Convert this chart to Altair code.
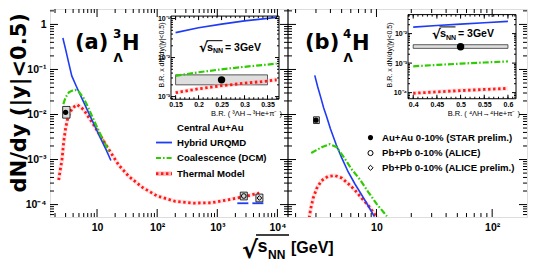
import math
import altair as alt
import pandas as pd

# ---------------- data ----------------
# panel (a): hypertriton 3ΛH, x = sqrt(s_NN) [GeV], y = dN/dy
urqmd3_x = [2.7, 3.0, 3.4, 3.8, 4.5, 5.5, 7.0, 9.0, 11.0, 14.0, 17.0]
urqmd3_y = [0.50, 0.28, 0.135, 0.072, 0.043, 0.024, 0.012, 0.0059, 0.0033, 0.0017, 0.00095]
coal3_x = [2.75, 3.0, 3.4, 3.9, 4.4, 5.0, 6.0, 7.0, 8.5, 10.0, 12.0, 14.0, 16.0]
coal3_y = [0.017, 0.024, 0.031, 0.034, 0.035, 0.032, 0.023, 0.015, 0.0085, 0.0052, 0.0031, 0.0021, 0.0014]
therm3_x = [2.3, 2.45, 2.6, 2.8, 3.0, 3.3, 3.9, 4.7, 6.0, 8.4, 11.0, 16.0, 23.0, 34.0, 57.0,
            100.0, 200.0, 400.0, 800.0, 1500.0, 2800.0, 5000.0]
therm3_y = [3.5e-4, 6e-4, 9.5e-4, 2.6e-3, 5e-3, 9e-3, 0.014, 0.0165, 0.0128, 0.0065, 0.0036,
            0.0016, 7.5e-4, 4.2e-4, 2.4e-4, 1.55e-4, 1.18e-4, 1.08e-4, 1.1e-4, 1.27e-4, 1.5e-4, 1.8e-4]
star3 = dict(x=[3.0], y=[0.0112], xlo=[2.68], xhi=[3.55], ylo=[0.0083], yhi=[0.0151])
alice_x = [2760.0]
alice_y = [1.55e-4]
alice_box = dict(xlo=[2413.0], xhi=[3157.0], ylo=[1.27e-4], yhi=[1.89e-4])
aliceP_x = [5020.0]
aliceP_y = [1.4e-4]
aliceP_box = dict(xlo=[4390.0], xhi=[5740.0], ylo=[1.15e-4], yhi=[1.71e-4])
lhc_urqmd = dict(xlo=[2154.0, 3831.0], xhi=[3287.0, 5843.0], y=[1.07e-4, 1.07e-4])

# panel (b): 4ΛH
urqmd4_x = [2.93, 3.1, 3.3, 3.5, 3.7, 4.0, 4.5, 5.0, 5.7, 6.5, 7.5, 8.5, 9.6]
urqmd4_y = [0.074, 0.042, 0.024, 0.014, 0.0091, 0.0048, 0.0021, 1.1e-3, 5.3e-4, 2.9e-4, 1.6e-4, 9.3e-5, 5.4e-5]
coal4_x = [2.73, 3.0, 3.4, 3.95, 4.5, 5.2, 6.1, 7.2, 8.5, 10.0, 12.3]
coal4_y = [1.4e-3, 1.6e-3, 1.9e-3, 2.2e-3, 1.9e-3, 1.15e-3, 6.1e-4, 3.6e-4, 1.9e-4, 1.05e-4, 5.5e-5]
therm4_x = [2.62, 2.7, 2.84, 3.05, 3.35, 3.8, 4.37, 5.0, 5.71, 6.5, 7.45, 8.5, 9.7, 10.5]
therm4_y = [5e-5, 8e-5, 1.4e-4, 2.3e-4, 3.4e-4, 4.2e-4, 4.4e-4, 3.9e-4, 2.9e-4, 2.1e-4, 1.4e-4, 9.5e-5, 6e-5, 4.5e-5]
star4 = dict(x=[3.0], y=[0.0075], xlo=[2.86], xhi=[3.21], ylo=[0.0063], yhi=[0.0089])

# insets: B.R. x dN/dy at 3 GeV
br3 = [0.15, 0.2, 0.25, 0.3, 0.35, 0.37]
br3_urqmd = [0.0436, 0.058, 0.072, 0.087, 0.101, 0.106]
br3_coal = [0.0034, 0.0042, 0.0050, 0.0058, 0.0066, 0.0070]
br3_therm = [0.00126, 0.00158, 0.0019, 0.0022, 0.0025, 0.0027]
br3_band = dict(xlo=[0.15], xhi=[0.35], ylo=[0.0020], yhi=[0.0036])
br3_star = dict(x=[0.25], y=[0.00268])

br4 = [0.4, 0.45, 0.5, 0.55, 0.6]
br4_urqmd = [0.0166, 0.0188, 0.021, 0.0234, 0.026]
br4_coal = [7.8e-4, 8.7e-4, 9.6e-4, 1.05e-3, 1.14e-3]
br4_therm = [9.5e-5, 1.06e-4, 1.17e-4, 1.28e-4, 1.39e-4]
br4_band = dict(xlo=[0.4], xhi=[0.6], ylo=[0.00316], yhi=[0.0042])
br4_star = dict(x=[0.5], y=[0.00358])

legend_a = ["Central Au+Au", "Hybrid URQMD", "Coalescence (DCM)", "Thermal Model"]
legend_b = ["Au+Au 0-10% (STAR prelim.)", "Pb+Pb 0-10% (ALICE)", "Pb+Pb 0-10% (ALICE prelim.)"]

# ---------------- layout / style ----------------
W, H, WL = 477, 208, 238
FONT = "Liberation Sans"
BLUE, GREEN, RED, PINK = "#1f3cf5", "#2ecc00", "#ff1a1a", "#ffb8b8"


def PX(X):
    return X - 51


def PY(Y):
    return (Y - 4.3) * 0.984


XL = dict(type="log", domain=[1.65, 1.5e4], range=[0, WL])
XR = dict(type="log", domain=[1.72, 200], range=[WL, W])
YM = dict(type="log", domain=[5.3e-5, 2.2], range=[H, 0])
IL_X = dict(type="linear", domain=[0.14, 0.375], range=[PX(172), PX(280)], zero=False)
IL_Y = dict(type="log", domain=[8.55e-4, 0.1156], range=[PY(96), PY(11.5)])
IR_X = dict(type="linear", domain=[0.389, 0.617], range=[PX(409), PX(517)], zero=False)
IR_Y = dict(type="log", domain=[6.2e-5, 0.044], range=[PY(95.5), PY(10)])


def S(d):
    return alt.Scale(nice=False, **d)


def line(xs, ys, xs_, ys_, color, width, dash=None, opacity=1.0, clip=False):
    kw = dict(color=color, strokeWidth=width, opacity=opacity, clip=clip)
    if dash:
        kw["strokeDash"] = dash
    return alt.Chart(pd.DataFrame({"x": xs, "y": ys})).mark_line(**kw).encode(
        x=alt.X("x:Q", scale=S(xs_), axis=None),
        y=alt.Y("y:Q", scale=S(ys_), axis=None),
    )


def curves(xs, ys, xs_, ys_, kind, clip=False):
    if kind == "urqmd":
        return [line(xs, ys, xs_, ys_, BLUE, 1.6, clip=clip)]
    if kind == "coal":
        return [line(xs, ys, xs_, ys_, GREEN, 2.2, dash=[6, 2, 1.6, 2], clip=clip)]
    return [line(xs, ys, xs_, ys_, PINK, 4.5, opacity=0.35, clip=clip),
            line(xs, ys, xs_, ys_, RED, 2.8, dash=[2.4, 2.6], clip=clip)]


def box(d, xs_, ys_, fill="#d9d9d9", stroke="black", sw=0.8):
    return alt.Chart(pd.DataFrame(d)).mark_rect(fill=fill, stroke=stroke, strokeWidth=sw).encode(
        x=alt.X("xlo:Q", scale=S(xs_), axis=None), x2="xhi:Q",
        y=alt.Y("ylo:Q", scale=S(ys_), axis=None), y2="yhi:Q",
    )


def point(xs, ys, xs_, ys_, shape="circle", filled=True, size=30, sw=1.0):
    return alt.Chart(pd.DataFrame({"x": xs, "y": ys})).mark_point(
        shape=shape, filled=filled, color="black", size=size, strokeWidth=sw, opacity=1
    ).encode(x=alt.X("x:Q", scale=S(xs_), axis=None), y=alt.Y("y:Q", scale=S(ys_), axis=None))


def text(s, X, Y, size, weight="bold", align="left", baseline="alphabetic", angle=0,
         font=FONT, color="black"):
    return alt.Chart(pd.DataFrame({"t": [s]})).mark_text(
        align=align, baseline=baseline, fontSize=size, fontWeight=weight, angle=angle,
        font=font, color=color
    ).encode(x=alt.value(PX(X)), y=alt.value(PY(Y)), text="t:N")


def hbar(X1, X2, Y, color="black", width=1.0, dash=None):
    kw = dict(color=color, strokeWidth=width)
    if dash:
        kw["strokeDash"] = dash
    return alt.Chart(pd.DataFrame({"a": [0]})).mark_rule(**kw).encode(
        x=alt.value(PX(X1)), x2=alt.value(PX(X2)), y=alt.value(PY(Y)))


def xticks(vals, xs_, ya, yb, sw=1.0):
    return alt.Chart(pd.DataFrame({"v": vals})).mark_rule(color="black", strokeWidth=sw).encode(
        x=alt.X("v:Q", scale=S(xs_), axis=None), y=alt.value(ya), y2=alt.value(yb))


def yticks(vals, ys_, xa, xb, sw=1.0):
    return alt.Chart(pd.DataFrame({"v": vals})).mark_rule(color="black", strokeWidth=sw).encode(
        y=alt.Y("v:Q", scale=S(ys_), axis=None), x=alt.value(xa), x2=alt.value(xb))


def label_expr(vals, labels):
    expr = "'%s'" % labels[-1]
    for v, lab in reversed(list(zip(vals[:-1], labels[:-1]))):
        expr = "datum.value < %g ? '%s' : (%s)" % (v * 1.5, lab, expr)
    return expr


def axis(orient, offset, vals, size, labels=None, fmt=None, pad=3, weight="bold"):
    kw = dict(orient=orient, offset=offset, values=vals, ticks=False, domain=False, grid=False,
              title=None, labelFont=FONT, labelFontSize=size, labelFontWeight=weight,
              labelPadding=pad, labelColor="black", labelOverlap=False, labelFlush=False)
    if labels:
        kw["labelExpr"] = label_expr(vals, labels)
    if fmt:
        kw["format"] = fmt
    return alt.Axis(**kw)


def axis_layer(xs_, ys_, xax, yax, x0, y0):
    return alt.Chart(pd.DataFrame({"x": [x0], "y": [y0]})).mark_point(opacity=0).encode(
        x=alt.X("x:Q", scale=S(xs_), axis=xax), y=alt.Y("y:Q", scale=S(ys_), axis=yax))


SUP = {"-": "\u207b", "1": "\u00b9", "2": "\u00b2", "3": "\u00b3", "4": "\u2074"}


def pow_label(e):
    if e == 0:
        return "1"
    if e == 1:
        return "10"
    return "10" + "".join(SUP[c] for c in str(e))


layers = []

# ---- main curves ----
layers += curves(therm3_x, therm3_y, XL, YM, "therm")
layers += curves(urqmd3_x, urqmd3_y, XL, YM, "urqmd")
layers += curves(coal3_x, coal3_y, XL, YM, "coal")
layers += curves(therm4_x, therm4_y, XR, YM, "therm", clip=True)
layers += curves(urqmd4_x, urqmd4_y, XR, YM, "urqmd", clip=True)
layers += curves(coal4_x, coal4_y, XR, YM, "coal", clip=True)

# ---- data points ----
layers.append(box(star3, XL, YM))
layers.append(point(star3["x"], star3["y"], XL, YM, size=28))
layers.append(alt.Chart(pd.DataFrame(lhc_urqmd)).mark_rule(color=BLUE, strokeWidth=1.8).encode(
    x=alt.X("xlo:Q", scale=S(XL), axis=None), x2="xhi:Q",
    y=alt.Y("y:Q", scale=S(YM), axis=None)))
layers.append(box(alice_box, XL, YM))
layers.append(point(alice_x, alice_y, XL, YM, filled=False, size=22))
layers.append(box(aliceP_box, XL, YM))
layers.append(point(aliceP_x, aliceP_y, XL, YM, shape="diamond", filled=False, size=22))
layers.append(box(star4, XR, YM))
layers.append(point(star4["x"], star4["y"], XR, YM, size=28))

# ---- insets ----
for (IX, IY, br, u, c, t, band, star) in [
    (IL_X, IL_Y, br3, br3_urqmd, br3_coal, br3_therm, br3_band, br3_star),
    (IR_X, IR_Y, br4, br4_urqmd, br4_coal, br4_therm, br4_band, br4_star),
]:
    frame = dict(xlo=[IX["domain"][0]], xhi=[IX["domain"][1]],
                 ylo=[IY["domain"][0]], yhi=[IY["domain"][1]])
    layers.append(box(frame, IX, IY, fill="white", stroke="black", sw=1.0))
    layers.append(box(band, IX, IY, fill="#dedede", stroke="#333333", sw=0.8))
    layers += curves(br, u, IX, IY, "urqmd")
    layers += curves(br, c, IX, IY, "coal")
    layers += curves(br, t, IX, IY, "therm")
    layers.append(point(star["x"], star["y"], IX, IY, size=55))


def sqrt_label(X, Y):
    return [
        text("\u221a", X, Y + 1.5, 13, font="DejaVu Sans"),
        text("s", X + 8, Y, 11),
        text("NN", X + 14, Y + 2.5, 7),
        text("= 3GeV", X + 26, Y, 10.5),
        hbar(X + 7.5, X + 23.5, Y - 10.5, width=1.0),
    ]


layers += sqrt_label(200, 47)
layers += sqrt_label(433, 33)

# inset axis titles
layers.append(text("B.R. x dN/dy(|y|<0.5)", 163, 51, 7, weight="normal", align="center",
                   baseline="middle", angle=270))
layers.append(text("B.R. x dN/dy(|y|<0.5)", 391, 51, 7, weight="normal", align="center",
                   baseline="middle", angle=270))
layers.append(text("B.R. ( \u00b3\u039bH\u2192\u00b3He+\u03c0\u207b )", 283, 113, 7.5, weight="normal",
                   align="right"))
layers.append(text("B.R. ( \u2074\u039bH\u2192\u2074He+\u03c0\u207b )", 521, 113, 7.5, weight="normal",
                   align="right"))

# ---- legends ----
layers.append(text(legend_a[0], 178, 125, 9.6, baseline="middle"))
ly = [140, 155.7, 171.7]
layers.append(hbar(157, 173, ly[0], color=BLUE, width=1.8))
layers.append(hbar(157, 173, ly[1], color=GREEN, width=2.2, dash=[5, 2, 1.6, 2]))
layers.append(hbar(157, 173, ly[2], color=PINK, width=4.5))
layers.append(hbar(157, 173, ly[2], color=RED, width=2.8, dash=[2.4, 2.6]))
for name, Y in zip(legend_a[1:], ly):
    layers.append(text(name, 178, Y, 9.6, baseline="middle"))

lyb = [135, 150.7, 165.7]
for (shape, filled), Y in zip([("circle", True), ("circle", False), ("diamond", False)], lyb):
    layers.append(alt.Chart(pd.DataFrame({"a": [0]})).mark_point(
        shape=shape, filled=filled, color="black", size=26, strokeWidth=1, opacity=1
    ).encode(x=alt.value(PX(371.5)), y=alt.value(PY(Y))))
for name, Y in zip(legend_b, lyb):
    layers.append(text(name, 383, Y, 9.6, baseline="middle"))


# ---- ticks ----
def minors(lo_e, hi_e, lo, hi):
    return [k * 10.0 ** e for e in range(lo_e, hi_e + 1) for k in range(2, 10)
            if lo <= k * 10.0 ** e <= hi]


xl_major = [10.0, 100.0, 1000.0, 10000.0]
xl_minor = minors(0, 3, 1.65, 1.5e4)
xr_major = [10.0, 100.0]
xr_minor = minors(0, 1, 1.72, 199)
y_major = [1e-4, 1e-3, 1e-2, 1e-1, 1.0]
y_minor = minors(-5, 0, 5.3e-5, 2.2)
MJ, MN = 8, 4
for vals, L in [(xl_major, MJ), (xl_minor, MN)]:
    layers.append(xticks(vals, XL, H, H - L))
    layers.append(xticks(vals, XL, 0, L))
for vals, L in [(xr_major, MJ), (xr_minor, MN)]:
    layers.append(xticks(vals, XR, H, H - L))
    layers.append(xticks(vals, XR, 0, L))
for vals, L in [(y_major, MJ), (y_minor, MN)]:
    layers.append(yticks(vals, YM, 0, L))
    layers.append(yticks(vals, YM, WL, WL - L))
    layers.append(yticks(vals, YM, WL, WL + L))
    layers.append(yticks(vals, YM, W, W - L))

# inset ticks
for IX, IY, majx, lo, hi, ymaj in [
    (IL_X, IL_Y, [0.15, 0.2, 0.25, 0.3, 0.35], 14, 37, [1e-3, 1e-2, 1e-1]),
    (IR_X, IR_Y, [0.4, 0.45, 0.5, 0.55, 0.6], 39, 61, [1e-4, 1e-3, 1e-2]),
]:
    minx = [i / 100.0 for i in range(lo, hi + 1)]
    yb, yt = IY["range"]
    xa, xb = IX["range"]
    layers.append(xticks(majx, IX, yb, yb - 4))
    layers.append(xticks(minx, IX, yb, yb - 2))
    layers.append(xticks(majx, IX, yt, yt + 4))
    layers.append(xticks(minx, IX, yt, yt + 2))
    d0, d1 = IY["domain"]
    ymin = minors(-5, -1, d0, d1)
    layers.append(yticks(ymaj, IY, xa, xa + 4))
    layers.append(yticks(ymin, IY, xa, xa + 2))
    layers.append(yticks(ymaj, IY, xb, xb - 4))
    layers.append(yticks(ymin, IY, xb, xb - 2))

# panel divider
layers.append(alt.Chart(pd.DataFrame({"a": [0]})).mark_rule(color="black", strokeWidth=1.2).encode(
    x=alt.value(WL), y=alt.value(0), y2=alt.value(H)))

# ---- axes (labels) ----
layers.append(axis_layer(
    XL, YM,
    axis("bottom", 0, xl_major, 10.5, labels=[pow_label(e) for e in range(1, 5)], pad=5),
    axis("left", 0, y_major, 10.5, labels=[pow_label(e) for e in range(-4, 1)], pad=4),
    10.0, 0.01))
layers.append(axis_layer(
    XR, YM,
    axis("bottom", 0, xr_major, 10.5, labels=[pow_label(e) for e in range(1, 3)], pad=5),
    None, 10.0, 0.01))
layers.append(axis_layer(
    IL_X, IL_Y,
    axis("bottom", -(H - IL_Y["range"][0]), [0.15, 0.2, 0.25, 0.3, 0.35], 7, fmt="~g", pad=1.5),
    axis("left", -IL_X["range"][0], [1e-3, 1e-2, 1e-1], 7,
         labels=[pow_label(e) for e in range(-3, 0)], pad=1.5),
    0.2, 0.01))
layers.append(axis_layer(
    IR_X, IR_Y,
    axis("bottom", -(H - IR_Y["range"][0]), [0.4, 0.45, 0.5, 0.55, 0.6], 7, fmt="~g", pad=1.5),
    axis("left", -IR_X["range"][0], [1e-4, 1e-3, 1e-2], 7,
         labels=[pow_label(e) for e in range(-4, -1)], pad=1.5),
    0.5, 0.001))

# ---- big titles ----
layers.append(text("dN/dy (|y|<0.5)", 21, 8.5, 21, align="right", baseline="middle", angle=270,
                   font="DejaVu Sans"))
layers.append(text("(a)", 76, 45, 21, font="DejaVu Sans"))
layers.append(text("3", 114, 34, 12, font="DejaVu Sans"))
layers.append(text("\u039b", 114.5, 58, 12, font="DejaVu Sans"))
layers.append(text("H", 123, 46, 21, font="DejaVu Sans"))
layers.append(text("(b)", 306, 45, 21, font="DejaVu Sans"))
layers.append(text("4", 344, 34, 12, font="DejaVu Sans"))
layers.append(text("\u039b", 344.5, 58, 12, font="DejaVu Sans"))
layers.append(text("H", 353, 46, 21, font="DejaVu Sans"))
# x title: sqrt(s_NN) [GeV]
layers.append(text("\u221a", 243, 257, 24, font="DejaVu Sans"))
layers.append(text("s", 258.5, 251, 18))
layers.append(text("NN", 269, 258, 12))
layers.append(text("[GeV]", 292, 252, 16))
layers.append(hbar(257, 290, 234, width=1.6))

chart = alt.layer(*layers).resolve_scale(x="independent", y="independent").properties(
    width=W, height=H, padding={"left": 0, "top": 0, "right": 2, "bottom": 0}
).configure_view(stroke="black", strokeWidth=1.2).configure(font=FONT)

chart.save("out.html", embed_options={"renderer": "svg", "actions": False})
